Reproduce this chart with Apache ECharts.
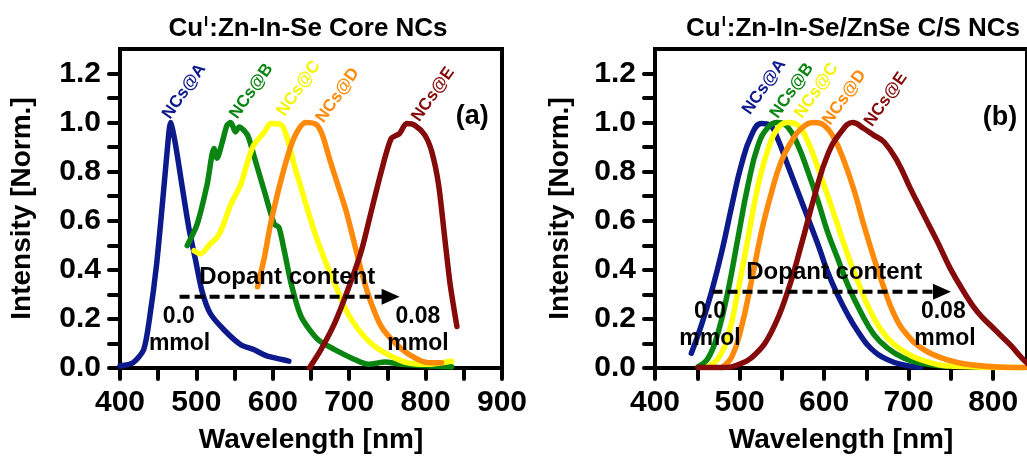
<!DOCTYPE html>
<html>
<head>
<meta charset="utf-8">
<script src="https://cdn.jsdelivr.net/npm/echarts@6/dist/echarts.min.js"></script>
<style>
html,body{margin:0;padding:0;background:#fff;}
#chart{width:1027px;height:459px;}
</style>
</head>
<body>
<div id="chart"></div>
<script>
// 光谱数据 [波长nm, 归一化强度]
// (a) 核 NCs
var coreA = [[400,0.008],[417,0.021],[431,0.075],[439,0.21],[448,0.425],[457,0.72],[464,0.962],[466,1.0],[472,0.922],[481,0.747],[490,0.573],[499,0.438],[507,0.317],[518,0.223],[536,0.156],[558,0.095],[575,0.075],[593,0.048],[621,0.028]];
var coreB = [[488,0.499],[501,0.586],[514,0.747],[523,0.895],[527,0.855],[534,0.922],[540,0.989],[545,1.0],[551,0.962],[556,0.982],[567,0.949],[575,0.868],[589,0.72],[602,0.586],[608,0.573],[615,0.478],[624,0.344],[637,0.21],[659,0.116],[681,0.075],[707,0.035],[725,0.015],[747,0.024],[768,0.015],[812,0.008],[834,0.005]];
var coreC = [[497,0.478],[505,0.465],[518,0.505],[527,0.532],[534,0.573],[545,0.667],[558,0.747],[567,0.841],[575,0.908],[589,0.962],[597,0.996],[611,0.992],[619,0.935],[628,0.828],[637,0.734],[646,0.64],[657,0.532],[670,0.425],[681,0.344],[698,0.223],[716,0.142],[733,0.089],[755,0.048],[777,0.021],[804,0.015],[821,0.021],[834,0.028]];
var coreD = [[580,0.331],[589,0.452],[597,0.586],[606,0.707],[615,0.815],[624,0.908],[633,0.969],[643,1.0],[657,0.992],[665,0.949],[674,0.855],[685,0.747],[696,0.64],[707,0.505],[718,0.371],[729,0.263],[742,0.169],[760,0.102],[782,0.048],[804,0.021],[821,0.021]];
var coreE = [[648,0.001],[663,0.075],[681,0.183],[698,0.317],[716,0.478],[729,0.64],[742,0.801],[755,0.935],[766,0.956],[775,0.996],[786,0.989],[799,0.949],[808,0.882],[817,0.747],[825,0.532],[832,0.344],[841,0.169]];
// (b) 核/壳 NCs
var shellA = [[443,0.06],[455,0.176],[467,0.312],[479,0.474],[491,0.664],[502,0.826],[514,0.948],[526,0.996],[536,0.989],[545,0.935],[557,0.826],[569,0.718],[581,0.61],[593,0.501],[604,0.393],[616,0.298],[628,0.217],[640,0.149],[655,0.081],[675,0.034],[694,0.013],[714,0.003]];
var shellB = [[451,0.005],[463,0.041],[475,0.149],[487,0.325],[498,0.528],[510,0.745],[522,0.908],[534,0.982],[545,1.0],[557,0.982],[569,0.908],[581,0.799],[593,0.678],[604,0.556],[616,0.447],[628,0.339],[643,0.23],[659,0.136],[675,0.081],[694,0.041],[714,0.02],[745,0.007]];
var shellC = [[461,0.003],[475,0.041],[487,0.136],[498,0.312],[510,0.528],[522,0.745],[534,0.894],[545,0.976],[557,1.0],[569,0.989],[581,0.921],[593,0.813],[604,0.705],[616,0.583],[628,0.461],[640,0.352],[655,0.23],[675,0.122],[694,0.068],[714,0.034],[753,0.007],[824,0.002],[836,0.002]];
var shellD = [[479,0.002],[491,0.047],[502,0.163],[514,0.352],[526,0.556],[538,0.718],[549,0.84],[561,0.921],[573,0.976],[588,1.0],[600,0.989],[612,0.935],[624,0.84],[636,0.718],[647,0.583],[659,0.447],[671,0.325],[683,0.217],[698,0.136],[718,0.075],[745,0.034],[773,0.013],[812,0.003],[840,0.002]];
var shellE = [[451,0.002],[479,0.002],[498,0.013],[518,0.054],[538,0.149],[557,0.312],[573,0.501],[589,0.705],[604,0.867],[620,0.962],[634,1.0],[647,0.976],[659,0.948],[671,0.921],[687,0.84],[702,0.732],[718,0.623],[734,0.515],[749,0.407],[765,0.312],[781,0.23],[800,0.163],[820,0.095],[840,0.02],[850,0.0]];

var seriesNames = ['NCs@A','NCs@B','NCs@C','NCs@D','NCs@E'];
var colors = ['#0d1a8c','#0a8512','#ffff0a','#ff8a0a','#850a0a'];
var panelTitles = ['Cu{sup|I}:Zn-In-Se Core NCs','Cu{sup|I}:Zn-In-Se/ZnSe C/S NCs'];
var xName = 'Wavelength [nm]';
var yName = 'Intensity [Norm.]';

// 标注位置（数据坐标）
var nameSpots = [
    [[484,1.127],[572,1.128],[634,1.139],[685,1.111],[810,1.115]],
    [[529,1.145],[562,1.13],[591,1.13],[624,1.102],[673,1.094]]
];
var notes = [
    {tag:'(a)', tagAt:[861,1.026], dop:[619,0.37], arrow:[[478,0.29],[766,0.29]], lo:[477,0.21], loU:[478,0.10], hi:[790,0.21], hiU:[790,0.10]},
    {tag:'(b)', tagAt:[808,1.022], dop:[612,0.388], arrow:[[468,0.311],[750,0.311]], lo:[465,0.228], loU:[465,0.12], hi:[741,0.228], hiU:[743,0.12]}
];

var FONT = 'Liberation Sans';
var myChart = echarts.init(document.getElementById('chart'));

function makeX(idx, max){
    return {
        gridIndex: idx, type:'value', min:400, max:max, interval:50,
        name: xName, nameLocation:'middle', nameGap:58,
        nameTextStyle:{fontFamily:FONT, fontWeight:'bold', fontSize:28, color:'#000'},
        axisLine:{lineStyle:{color:'#000', width:4}},
        axisTick:{inside:false, length:11, lineStyle:{color:'#000', width:4, cap:'round'}},
        axisLabel:{
            margin:20, color:'#000', fontFamily:FONT, fontWeight:'bold', fontSize:30,
            showMaxLabel: max == 900,
            formatter:function(v){ return (v % 100 === 0) ? String(v) : ''; }
        },
        splitLine:{show:false}
    };
}
function makeY(idx, gap){
    return {
        gridIndex: idx, type:'value', min:0, max:1.3, interval:0.1,
        name: yName, nameLocation:'middle', nameGap:gap, nameRotate:90,
        nameTextStyle:{fontFamily:FONT, fontWeight:'bold', fontSize:28, color:'#000'},
        axisLine:{lineStyle:{color:'#000', width:4}},
        axisTick:{inside:false, length:11, lineStyle:{color:'#000', width:4, cap:'round'}},
        axisLabel:{
            margin:19, color:'#000', fontFamily:FONT, fontWeight:'bold', fontSize:30,
            showMaxLabel:false,
            formatter:function(v){
                var k = Math.round(v * 10);
                return (k % 2 === 0 && k <= 12) ? v.toFixed(1) : '';
            }
        },
        splitLine:{show:false}
    };
}

var dataSets = [[coreA,coreB,coreC,coreD,coreE],[shellA,shellB,shellC,shellD,shellE]];
var series = [];
dataSets.forEach(function(set, g){
    set.forEach(function(d, i){
        series.push({
            name: seriesNames[i], type:'line', xAxisIndex:g, yAxisIndex:g,
            data:d, showSymbol:false, smooth: g == 0 ? 0.25 : 0.45,
            lineStyle:{color:colors[i], width:5.5, cap:'round', join:'round'},
            itemStyle:{color:colors[i]}, animation:false
        });
    });
});

var titleStyle = function(){
    return {fontFamily:FONT, fontWeight:'bold', fontSize:26, color:'#000',
        rich:{sup:{fontFamily:FONT, fontWeight:'bold', fontSize:15, verticalAlign:'top', padding:[0,1,14,1]}}};
};

var option = {
    backgroundColor:'#fff',
    animation:false,
    title:[
        {text:panelTitles[0], left:303, top:9, textAlign:'center', textStyle:titleStyle()},
        {text:panelTitles[1], left:848, top:9, textAlign:'center', textStyle:titleStyle()}
    ],
    grid:[
        {left:120, top:49, width:382, height:323, show:true, borderColor:'#000', borderWidth:4, backgroundColor:'transparent'},
        {left:655, top:49, width:374, height:323, show:true, borderColor:'#000', borderWidth:4, backgroundColor:'transparent'}
    ],
    xAxis:[makeX(0, 900), makeX(1, 840)],
    yAxis:[makeY(0, 84), makeY(1, 81)],
    series:series
};
myChart.setOption(option);

// 标注：用坐标轴换算像素
function px(g, p){ return myChart.convertToPixel({gridIndex:g}, p); }
var graphics = [];
var rot = 55 * Math.PI / 180;
function txt(g, at, s, size, color, r){
    var p = px(g, at);
    graphics.push({type:'text', x:p[0], y:p[1], rotation:r || 0, z:100,
        style:{text:s, fill:color || '#000', font:'bold ' + size + 'px "' + FONT + '"', textAlign:'center', textVerticalAlign:'middle'}});
}
[0,1].forEach(function(g){
    nameSpots[g].forEach(function(at, i){ txt(g, at, seriesNames[i], 17, colors[i] == '#ffff0a' ? '#f4f400' : colors[i], rot); });
    var n = notes[g];
    txt(g, n.tagAt, n.tag, 27);
    txt(g, n.dop, 'Dopant content', 24);
    txt(g, n.lo, '0.0', 23);
    txt(g, n.loU, 'mmol', 23);
    txt(g, n.hi, '0.08', 23);
    txt(g, n.hiU, 'mmol', 23);
    var a0 = px(g, n.arrow[0]), a1 = px(g, n.arrow[1]);
    graphics.push({type:'line', z:100, shape:{x1:a0[0], y1:a0[1], x2:a1[0] - 14, y2:a1[1]},
        style:{stroke:'#000', lineWidth:4, lineDash:[10,5]}});
    graphics.push({type:'polygon', z:100, shape:{points:[[a1[0]-18, a1[1]-8],[a1[0], a1[1]],[a1[0]-18, a1[1]+8]]},
        style:{fill:'#000'}});
});
myChart.setOption({graphic:graphics});
</script>
</body>
</html>
